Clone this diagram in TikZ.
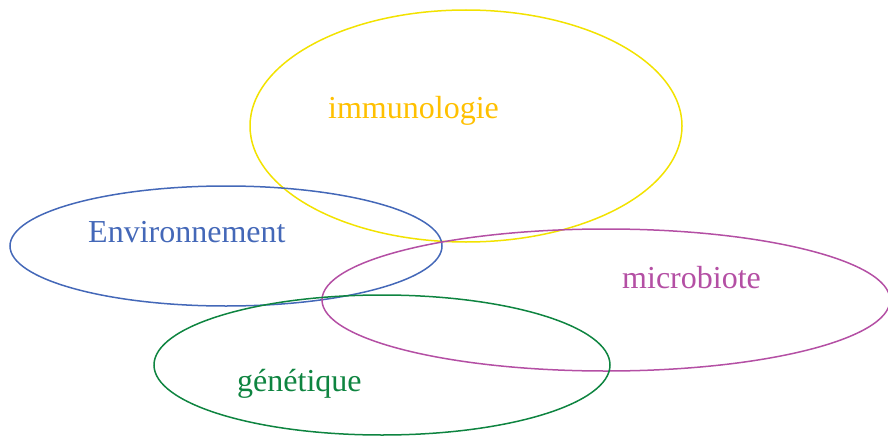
\documentclass[tikz,border=0pt]{standalone}
\usepackage{fontspec}
\setmainfont{Liberation Serif}
\definecolor{ellyellow}{HTML}{F2E200}
\definecolor{txtyellow}{HTML}{FFC000}
\definecolor{vennblue}{HTML}{4468B8}
\definecolor{vennmag}{HTML}{B44FA4}
\definecolor{venngreen}{HTML}{0E8440}
\begin{document}
\begin{tikzpicture}[x=1pt,y=-1pt,
  ring/.style={line width=1.5pt},
  lbl/.style={anchor=base west,inner sep=0pt,font=\fontsize{32}{36}\selectfont}]
\useasboundingbox (0,0) rectangle (888,436);
\clip (0,0) rectangle (888,436);
\draw[ring,ellyellow] (466,126) ellipse [x radius=216,y radius=116];
\draw[ring,vennblue] (226,246) ellipse [x radius=216,y radius=60];
\draw[ring,vennmag] (606,300) ellipse [x radius=284,y radius=71];
\draw[ring,venngreen] (382,365) ellipse [x radius=228,y radius=70];
\node[lbl,text=txtyellow] (imm) at (328,118) {immunologie};
\node[lbl,text=vennblue] (env) at (88,242) {Environnement};
\node[lbl,text=vennmag] (mic) at (622,288) {microbiote};
\node[lbl,text=venngreen] (gen) at (237,391) {génétique};
\end{tikzpicture}
\end{document}
